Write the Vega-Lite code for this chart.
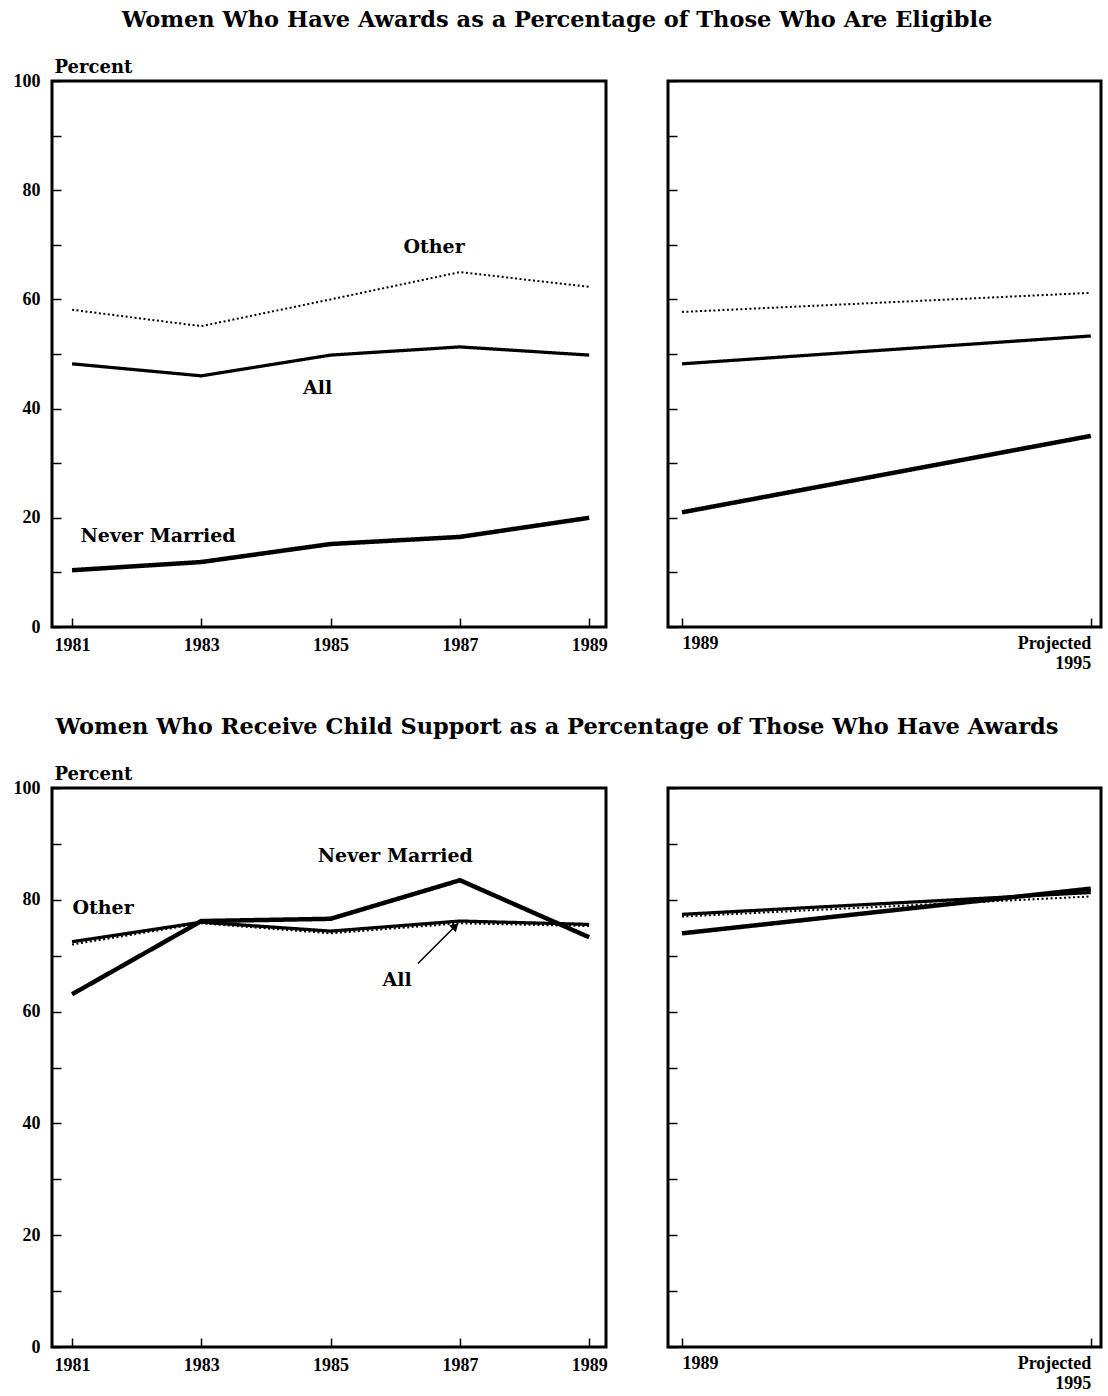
{
  "$schema": "https://vega.github.io/schema/vega-lite/v6.json",
  "padding": {"left": 11, "top": 9, "right": 4, "bottom": 0},
  "config": {
    "font": "DejaVu Serif",
    "view": {"stroke": "black", "strokeWidth": 3},
    "axis": {"labelFont": "Liberation Serif", "labelFontWeight": "bold", "labelFontSize": 18, "labelColor": "black", "tickColor": "black", "tickWidth": 1.5, "domain": false, "grid": false, "titleFont": "DejaVu Serif", "titleColor": "black"},
    "title": {"font": "DejaVu Serif", "fontSize": 22.5, "fontWeight": "bold", "color": "black", "anchor": "middle"},
    "concat": {"spacing": 56}
  },
  "datasets": {
    "awardsHist": [
      {"year": 1981, "series": "Other", "value": 58.1},
      {"year": 1983, "series": "Other", "value": 55.1},
      {"year": 1985, "series": "Other", "value": 60.0},
      {"year": 1987, "series": "Other", "value": 65.0},
      {"year": 1989, "series": "Other", "value": 62.3},
      {"year": 1981, "series": "All", "value": 48.2},
      {"year": 1983, "series": "All", "value": 46.0},
      {"year": 1985, "series": "All", "value": 49.8},
      {"year": 1987, "series": "All", "value": 51.3},
      {"year": 1989, "series": "All", "value": 49.8},
      {"year": 1981, "series": "Never Married", "value": 10.4},
      {"year": 1983, "series": "Never Married", "value": 11.9},
      {"year": 1985, "series": "Never Married", "value": 15.2},
      {"year": 1987, "series": "Never Married", "value": 16.5},
      {"year": 1989, "series": "Never Married", "value": 20.0}
    ],
    "awardsProj": [
      {"year": 1989, "series": "Other", "value": 57.7},
      {"year": 1995, "series": "Other", "value": 61.2},
      {"year": 1989, "series": "All", "value": 48.2},
      {"year": 1995, "series": "All", "value": 53.3},
      {"year": 1989, "series": "Never Married", "value": 21.0},
      {"year": 1995, "series": "Never Married", "value": 35.0}
    ],
    "receiptHist": [
      {"year": 1981, "series": "Other", "value": 72.0},
      {"year": 1983, "series": "Other", "value": 75.8},
      {"year": 1985, "series": "Other", "value": 74.0},
      {"year": 1987, "series": "Other", "value": 75.8},
      {"year": 1989, "series": "Other", "value": 75.3},
      {"year": 1981, "series": "All", "value": 72.5},
      {"year": 1983, "series": "All", "value": 76.0},
      {"year": 1985, "series": "All", "value": 74.4},
      {"year": 1987, "series": "All", "value": 76.2},
      {"year": 1989, "series": "All", "value": 75.6},
      {"year": 1981, "series": "Never Married", "value": 63.1},
      {"year": 1983, "series": "Never Married", "value": 76.2},
      {"year": 1985, "series": "Never Married", "value": 76.6},
      {"year": 1987, "series": "Never Married", "value": 83.5},
      {"year": 1989, "series": "Never Married", "value": 73.3}
    ],
    "receiptProj": [
      {"year": 1989, "series": "Other", "value": 77.0},
      {"year": 1995, "series": "Other", "value": 80.6},
      {"year": 1989, "series": "All", "value": 77.4},
      {"year": 1995, "series": "All", "value": 81.3},
      {"year": 1989, "series": "Never Married", "value": 74.0},
      {"year": 1995, "series": "Never Married", "value": 82.0}
    ],
    "labelsTop": [
      {"year": 1986.6, "value": 69.6, "label": "Other"},
      {"year": 1984.8, "value": 43.8, "label": "All"},
      {"year": 1982.33, "value": 16.7, "label": "Never Married"}
    ],
    "labelsBottom": [
      {"year": 1986.0, "value": 87.8, "label": "Never Married"},
      {"year": 1981.48, "value": 78.5, "label": "Other"},
      {"year": 1986.03, "value": 65.6, "label": "All"}
    ],
    "arrow": [
      {"year": 1986.35, "value": 68.6, "year2": 1986.93, "value2": 75.3}
    ]
  },
  "vconcat": [
    {
      "title": {"text": "Women Who Have Awards as a Percentage of Those Who Are Eligible", "offset": 25},
      "hconcat": [
        {
          "width": 554, "height": 546,
          "encoding": {
            "x": {"field": "year", "type": "quantitative", "scale": {"domain": [1980.69, 1989.26], "nice": false, "zero": false}, "axis": {"values": [1981, 1983, 1985, 1987, 1989], "format": "d", "tickSize": -9, "labelPadding": 18, "labelFlush": false, "title": null}},
            "y": {"field": "value", "type": "quantitative", "scale": {"domain": [0, 100], "nice": false}, "axis": {"values": [0, 10, 20, 30, 40, 50, 60, 70, 80, 90, 100], "labelExpr": "datum.value % 20 == 0 ? datum.label : ''", "tickSize": -9, "labelPadding": 21, "labelFlush": false, "title": "Percent", "titleAngle": 0, "titleAlign": "left", "titleBaseline": "bottom", "titleX": 2, "titleY": -5, "titleFontSize": 18, "titleFontWeight": "bold"}}
          },
          "layer": [
            {
              "data": {"name": "awardsHist"},
              "mark": {"type": "line", "color": "black"},
              "encoding": {
                "detail": {"field": "series"},
                "strokeWidth": {"field": "series", "type": "nominal", "scale": {"domain": ["Never Married", "All", "Other"], "range": [4.5, 2, 2.2]}, "legend": null},
                "strokeDash": {"field": "series", "type": "nominal", "scale": {"domain": ["Never Married", "All", "Other"], "range": [[1, 0], [1, 0], [2, 2.5]]}, "legend": null}
              }
            },
            {
              "data": {"name": "labelsTop"},
              "mark": {"type": "text", "font": "DejaVu Serif", "fontWeight": "bold", "fontSize": 19, "color": "black"},
              "encoding": {"text": {"field": "label"}}
            }
          ]
        },
        {
          "width": 433, "height": 546,
          "data": {"name": "awardsProj"},
          "mark": {"type": "line", "color": "black"},
          "encoding": {
            "x": {"field": "year", "type": "quantitative", "scale": {"domain": [1988.795, 1995.15], "nice": false, "zero": false}, "axis": {"values": [1989, 1995], "labelExpr": "datum.value == 1995 ? ['Projected', '1995'] : '1989'", "labelAlign": {"condition": {"test": "datum.value == 1989", "value": "left"}, "value": "right"}, "tickSize": -9, "labelPadding": 16, "labelFlush": false, "title": null}},
            "y": {"field": "value", "type": "quantitative", "scale": {"domain": [0, 100], "nice": false}, "axis": {"values": [0, 10, 20, 30, 40, 50, 60, 70, 80, 90, 100], "labels": false, "tickSize": -9, "title": null}},
            "detail": {"field": "series"},
            "strokeWidth": {"field": "series", "type": "nominal", "scale": {"domain": ["Never Married", "All", "Other"], "range": [4.5, 2, 2.2]}, "legend": null},
            "strokeDash": {"field": "series", "type": "nominal", "scale": {"domain": ["Never Married", "All", "Other"], "range": [[1, 0], [1, 0], [2, 2.5]]}, "legend": null}
          }
        }
      ]
    },
    {
      "title": {"text": "Women Who Receive Child Support as a Percentage of Those Who Have Awards", "offset": 25},
      "hconcat": [
        {
          "width": 554, "height": 559,
          "encoding": {
            "x": {"field": "year", "type": "quantitative", "scale": {"domain": [1980.69, 1989.26], "nice": false, "zero": false}, "axis": {"values": [1981, 1983, 1985, 1987, 1989], "format": "d", "tickSize": -9, "labelPadding": 18, "labelFlush": false, "title": null}},
            "y": {"field": "value", "type": "quantitative", "scale": {"domain": [0, 100], "nice": false}, "axis": {"values": [0, 10, 20, 30, 40, 50, 60, 70, 80, 90, 100], "labelExpr": "datum.value % 20 == 0 ? datum.label : ''", "tickSize": -9, "labelPadding": 21, "labelFlush": false, "title": "Percent", "titleAngle": 0, "titleAlign": "left", "titleBaseline": "bottom", "titleX": 2, "titleY": -5, "titleFontSize": 18, "titleFontWeight": "bold"}}
          },
          "layer": [
            {
              "data": {"name": "receiptHist"},
              "mark": {"type": "line", "color": "black"},
              "encoding": {
                "detail": {"field": "series"},
                "strokeWidth": {"field": "series", "type": "nominal", "scale": {"domain": ["Never Married", "All", "Other"], "range": [4.5, 2, 3]}, "legend": null},
                "strokeDash": {"field": "series", "type": "nominal", "scale": {"domain": ["Never Married", "All", "Other"], "range": [[1, 0], [1, 0], [1.5, 1.5]]}, "legend": null}
              }
            },
            {
              "data": {"name": "labelsBottom"},
              "mark": {"type": "text", "font": "DejaVu Serif", "fontWeight": "bold", "fontSize": 19, "color": "black"},
              "encoding": {"text": {"field": "label"}}
            },
            {
              "data": {"name": "arrow"},
              "mark": {"type": "rule", "color": "black", "strokeWidth": 1.5},
              "encoding": {"x2": {"field": "year2"}, "y2": {"field": "value2"}}
            },
            {
              "data": {"name": "arrow"},
              "mark": {"type": "point", "shape": "triangle-up", "filled": true, "color": "black", "opacity": 1, "size": 90, "angle": 45},
              "encoding": {"x": {"field": "year2", "type": "quantitative"}, "y": {"field": "value2", "type": "quantitative"}}
            }
          ]
        },
        {
          "width": 433, "height": 559,
          "data": {"name": "receiptProj"},
          "mark": {"type": "line", "color": "black"},
          "encoding": {
            "x": {"field": "year", "type": "quantitative", "scale": {"domain": [1988.795, 1995.15], "nice": false, "zero": false}, "axis": {"values": [1989, 1995], "labelExpr": "datum.value == 1995 ? ['Projected', '1995'] : '1989'", "labelAlign": {"condition": {"test": "datum.value == 1989", "value": "left"}, "value": "right"}, "tickSize": -9, "labelPadding": 16, "labelFlush": false, "title": null}},
            "y": {"field": "value", "type": "quantitative", "scale": {"domain": [0, 100], "nice": false}, "axis": {"values": [0, 10, 20, 30, 40, 50, 60, 70, 80, 90, 100], "labels": false, "tickSize": -9, "title": null}},
            "detail": {"field": "series"},
            "strokeWidth": {"field": "series", "type": "nominal", "scale": {"domain": ["Never Married", "All", "Other"], "range": [4.5, 2, 3]}, "legend": null},
            "strokeDash": {"field": "series", "type": "nominal", "scale": {"domain": ["Never Married", "All", "Other"], "range": [[1, 0], [1, 0], [1.5, 1.5]]}, "legend": null}
          }
        }
      ]
    }
  ],
  "spacing": 42
}
